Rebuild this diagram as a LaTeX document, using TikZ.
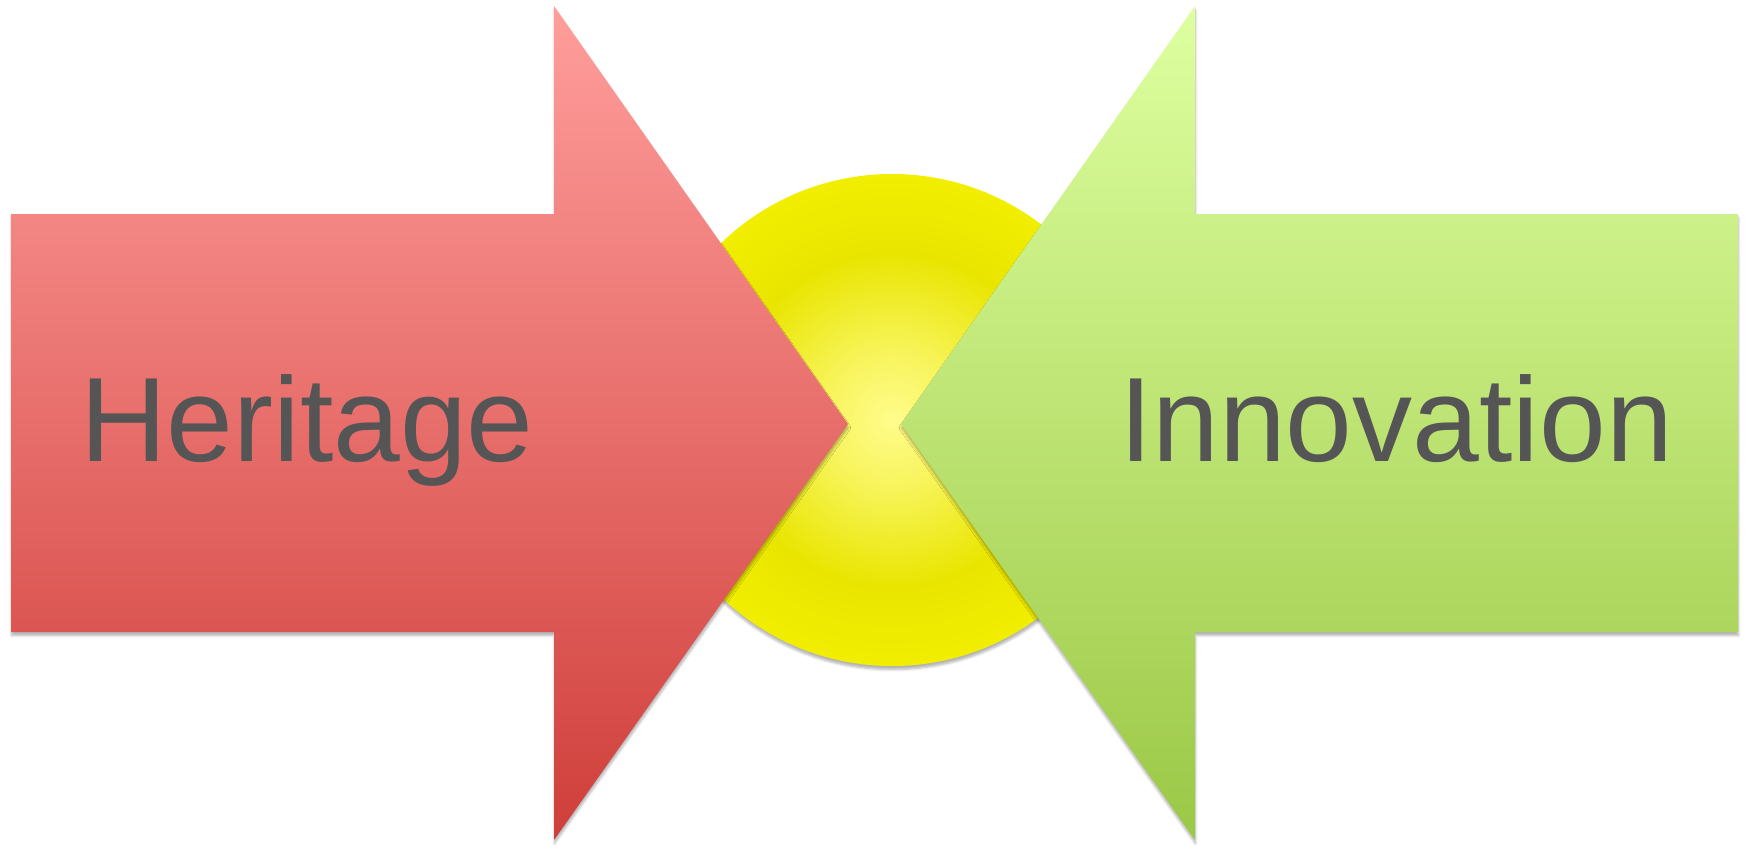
\documentclass[tikz,border=0pt]{standalone}
\usepackage{fontspec}
\setmainfont{Liberation Sans}
\usetikzlibrary{shadows.blur}
\definecolor{redtop}{RGB}{255,158,156}
\definecolor{redbot}{RGB}{207,62,58}
\definecolor{grntop}{RGB}{222,255,160}
\definecolor{grnbot}{RGB}{155,200,70}
\definecolor{txtgray}{RGB}{85,85,85}
\definecolor{ylite}{RGB}{255,252,140}
\definecolor{ymid}{RGB}{233,229,0}
\definecolor{yedge}{RGB}{242,238,0}
\pgfdeclareradialshading{sunshade}{\pgfpoint{0bp}{0bp}}{color(0bp)=(ylite); color(7bp)=(ylite!65!ymid); color(17bp)=(ymid); color(25bp)=(yedge); color(50bp)=(yedge)}
\tikzset{
  softshadow/.style={blur shadow={shadow xshift=0.2pt, shadow yshift=-1.8pt, shadow blur steps=5, shadow blur radius=1.2pt, shadow opacity=30}},
  label/.style={font=\fontsize{60}{70}\selectfont, text=txtgray, anchor=base, inner sep=0pt}
}
\begin{document}
\begin{tikzpicture}[x=0.5pt,y=-0.5pt]
\useasboundingbox (0,0) rectangle (1749,846);
% central circle
\path[shading=sunshade, softshadow] (892,420) circle (246);
% left arrow
\path[top color=redtop, bottom color=redbot, softshadow]
  (11,214) -- (554,214) -- (554,6) -- (848,424) -- (554,840) -- (554,632) -- (11,632) -- cycle;
% right arrow
\path[top color=grntop, bottom color=grnbot, softshadow]
  (1738,214) -- (1195,214) -- (1195,6) -- (901,424) -- (1195,840) -- (1195,632) -- (1738,632) -- cycle;
\node[label] (heritage) at (307,461) {Heritage};
\node[label] (innovation) at (1396,461) {Innovation};
\end{tikzpicture}
\end{document}
